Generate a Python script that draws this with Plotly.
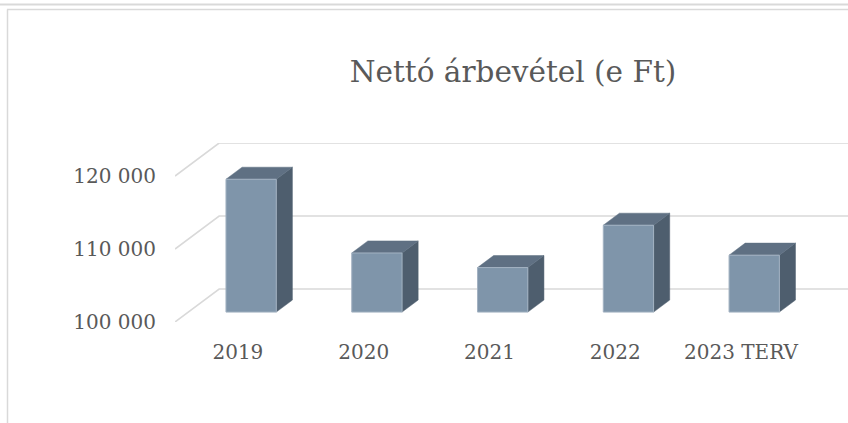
import plotly.graph_objects as go

# ---------------- data ----------------
categories = ["2019", "2020", "2021", "2022", "2023 TERV"]
values = [118200, 108100, 106100, 111900, 107800]
tick_values = [100000, 110000, 120000]
tick_labels = ["100 000", "110 000", "120 000"]
title_text = "Nettó árbevétel (e Ft)"

# ---------------- geometry / style constants ----------------
W, H = 848, 423
M_L, M_R, M_T, M_B = 175, 0, 143, 101
BASE = 100000
DEPTH_X = 0.351      # oblique depth offset in category units
DEPTH_Y = 4521       # oblique depth offset in value units
BAR_W = 0.40
BAR_D0, BAR_D1 = 0.30, 0.665   # bar front/back depth fractions

GRID = "#d9d9d9"
FRONT = "#7f95aa"
SIDE = "#4e5e6e"
TOP = "#5f7083"
EDGE = "#a3b2c2"
TXT = "#595959"
FONT = "DejaVu Serif"

n = len(categories)

# ---------------- gridlines (back wall + side wall) ----------------
gx, gy = [], []
for v in tick_values:
    gx += [0, DEPTH_X, n + DEPTH_X, None]
    gy += [v, v + DEPTH_Y, v + DEPTH_Y, None]

fig = go.Figure()
fig.add_trace(go.Scatter(x=gx, y=gy, mode="lines",
                         line=dict(color=GRID, width=1.6),
                         hoverinfo="skip", showlegend=False))

# ---------------- 3D bars ----------------
fx, fy, sx, sy, tx, ty = [], [], [], [], [], []
for i, v in enumerate(values):
    c = i + 0.5
    l0 = c - BAR_W / 2 + BAR_D0 * DEPTH_X
    r0 = c + BAR_W / 2 + BAR_D0 * DEPTH_X
    l1 = c - BAR_W / 2 + BAR_D1 * DEPTH_X
    r1 = c + BAR_W / 2 + BAR_D1 * DEPTH_X
    b0 = BASE + BAR_D0 * DEPTH_Y
    b1 = BASE + BAR_D1 * DEPTH_Y
    t0 = v + BAR_D0 * DEPTH_Y
    t1 = v + BAR_D1 * DEPTH_Y
    fx += [l0, r0, r0, l0, l0, None]
    fy += [b0, b0, t0, t0, b0, None]
    sx += [r0, r1, r1, r0, r0, None]
    sy += [b0, b1, t1, t0, b0, None]
    tx += [l0, r0, r1, l1, l0, None]
    ty += [t0, t0, t1, t1, t0, None]

fig.add_trace(go.Scatter(x=sx, y=sy, mode="lines", fill="toself",
                         fillcolor=SIDE, line=dict(color=SIDE, width=0.5),
                         hoverinfo="skip", showlegend=False))
fig.add_trace(go.Scatter(x=tx, y=ty, mode="lines", fill="toself",
                         fillcolor=TOP, line=dict(color=TOP, width=0.5),
                         hoverinfo="skip", showlegend=False))
fig.add_trace(go.Scatter(x=fx, y=fy, mode="lines", fill="toself",
                         fillcolor=FRONT, line=dict(color=EDGE, width=1),
                         hoverinfo="skip", showlegend=False))

# ---------------- chart frame (decoration) ----------------
PW = W - M_L - M_R
PH = H - M_T - M_B


def px(xp):
    return (xp - M_L) / PW


def py(yp):
    return (H - M_B - yp) / PH


shapes = [
    dict(type="line", xref="paper", yref="paper", x0=px(0), x1=px(W),
         y0=py(4.5), y1=py(4.5), line=dict(color=GRID, width=2)),
    dict(type="line", xref="paper", yref="paper", x0=px(7), x1=px(W),
         y0=py(9.5), y1=py(9.5), line=dict(color=GRID, width=1.5)),
    dict(type="line", xref="paper", yref="paper", x0=px(7.5), x1=px(7.5),
         y0=py(9.5), y1=py(H), line=dict(color=GRID, width=1.5)),
]

fig.update_layout(
    width=W, height=H,
    margin=dict(l=M_L, r=M_R, t=M_T, b=M_B, pad=0),
    paper_bgcolor="white", plot_bgcolor="white",
    font=dict(family=FONT, color=TXT),
    title=dict(text=title_text, x=513 / W, xanchor="center",
               y=1 - 72 / H, yanchor="middle", yref="container",
               font=dict(family=FONT, size=29.5, color=TXT)),
    showlegend=False,
    shapes=shapes,
    xaxis=dict(range=[0, n + DEPTH_X], tickvals=[i + 0.5 for i in range(n)],
               ticktext=categories, showgrid=False, zeroline=False,
               showline=False, ticks="", ticklabelstandoff=16,
               tickfont=dict(family=FONT, size=20, color=TXT),
               fixedrange=True),
    yaxis=dict(range=[BASE - 1, tick_values[-1] + DEPTH_Y],
               tickvals=tick_values, ticktext=tick_labels,
               showgrid=False, zeroline=False, showline=False, ticks="",
               ticklabelstandoff=18,
               tickfont=dict(family=FONT, size=20, color=TXT),
               fixedrange=True),
)

fig.write_html("out.html")
